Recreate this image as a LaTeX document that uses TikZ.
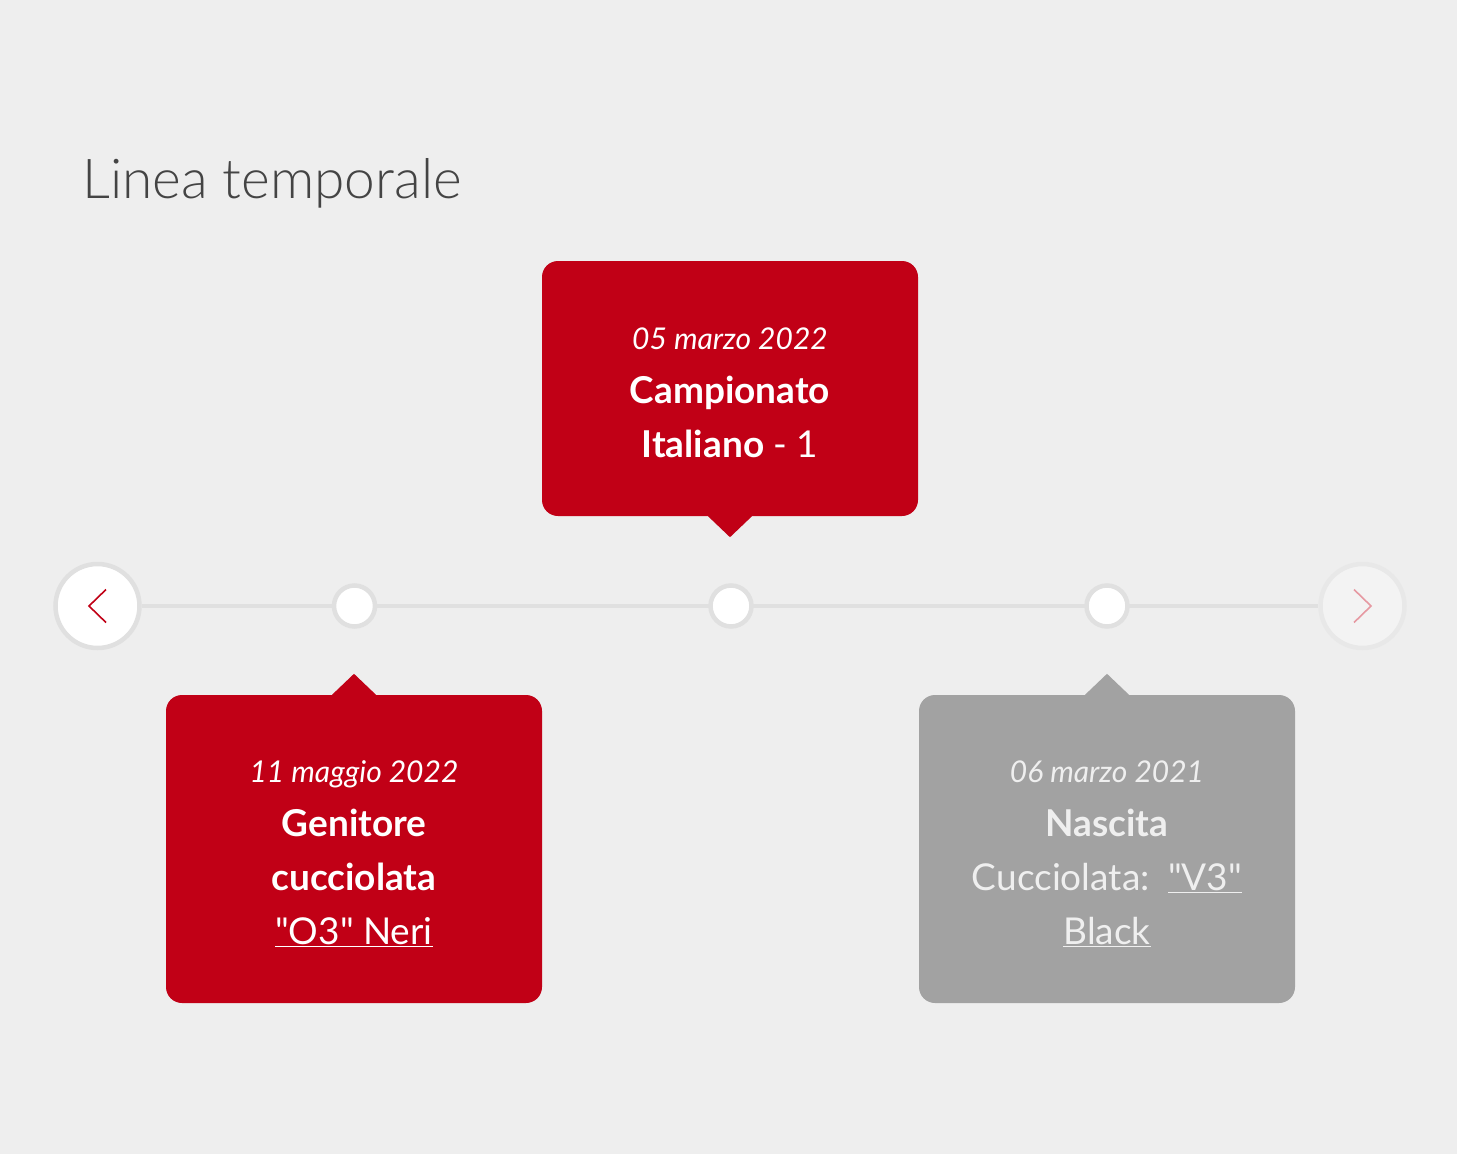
\documentclass[tikz,border=0pt]{standalone}
\usepackage{fontspec}
\usepackage{xcolor}
\setmainfont{Lato}
\newfontfamily\thinfont{Lato Light}

\definecolor{bgcol}{HTML}{EEEEEE}
\definecolor{evred}{HTML}{C10016}
\definecolor{evgrey}{HTML}{A2A2A2}
\definecolor{lightcol}{HTML}{EFEFEF}
\definecolor{tlgrey}{HTML}{E0E0E0}
\definecolor{nextfill}{HTML}{F3F3F3}
\definecolor{nextdraw}{HTML}{E8E8E8}
\definecolor{titlecol}{HTML}{444444}

\tikzset{
  evbox/.style={rectangle, rounded corners=16pt, minimum width=376pt, inner sep=0pt, align=center, font=\fontsize{37}{54}\selectfont},
  tldot/.style={circle, fill=white, draw=tlgrey, line width=4.5pt, minimum size=41pt, inner sep=0pt},
  navbtn/.style={circle, line width=4.5pt, minimum size=84pt, inner sep=0pt},
  tlline/.style={draw=tlgrey, line width=4pt},
  chev/.style={line width=1.6pt}
}
\newcommand{\evdate}[1]{{\fontsize{30}{54}\selectfont\itshape\rule{0pt}{31pt}#1}}
\newcommand{\qq}{\textquotedbl}

\begin{document}
\begin{tikzpicture}[x=1pt,y=1pt]
\fill[bgcol] (0,0) rectangle (1457,-1154);
\useasboundingbox (0,0) rectangle (1457,-1154);

\node[anchor=base west, inner sep=0pt, text=titlecol, font=\fontsize{55}{60}\selectfont\thinfont] (title) at (82,-198) {Linea temporale};

% navigation buttons and line
\node[navbtn, fill=white, draw=tlgrey] (btnprev) at (97.5,-606) {};
\node[navbtn, fill=nextfill, draw=nextdraw] (btnnext) at (1362.5,-606) {};
\draw[tlline] (btnprev) -- (btnnext);
\draw[chev, evred] ([shift={(8.5,16.5)}]btnprev.center) -- ([xshift=-8.5]btnprev.center) -- ([shift={(8.5,-16.5)}]btnprev.center);
\draw[chev, evred!40!white] ([shift={(-8.5,16.5)}]btnnext.center) -- ([xshift=8.5]btnnext.center) -- ([shift={(-8.5,-16.5)}]btnnext.center);

\node[tldot] (dot1) at (354.5,-606) {};
\node[tldot] (dot2) at (731,-606) {};
\node[tldot] (dot3) at (1107,-606) {};

% events
\node[evbox, fill=evred, text=white, minimum height=255pt] (ev2) at (730,-388.5)
  {\evdate{05 marzo 2022}\\ \textbf{Campionato}\\ \textbf{Italiano} - 1};
\fill[evred] ([xshift=-22]ev2.south) -- ([yshift=-21]ev2.south) -- ([xshift=22]ev2.south) -- cycle;

\node[evbox, fill=evred, text=white, minimum height=308pt] (ev1) at (354,-849)
  {\evdate{11 maggio 2022}\\ \textbf{Genitore}\\ \textbf{cucciolata}\\ \underline{\qq O3\qq{} Neri}};
\fill[evred] ([xshift=-22]ev1.north) -- ([yshift=21]ev1.north) -- ([xshift=22]ev1.north) -- cycle;

\node[evbox, fill=evgrey, text=lightcol, minimum height=308pt] (ev3) at (1107,-849)
  {\evdate{06 marzo 2021}\\ \textbf{Nascita}\\ Cucciolata:\hspace{0.5em}\underline{\qq V3\qq}\\ \underline{Black}};
\fill[evgrey] ([xshift=-22]ev3.north) -- ([yshift=21]ev3.north) -- ([xshift=22]ev3.north) -- cycle;

\end{tikzpicture}
\end{document}
